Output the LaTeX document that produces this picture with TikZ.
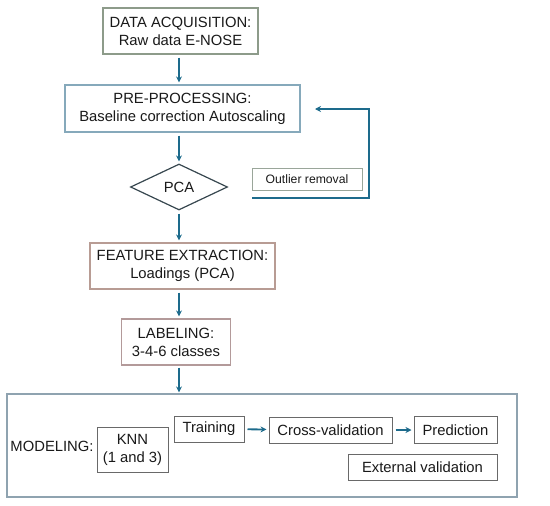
\documentclass[tikz,border=0pt]{standalone}
\usepackage{fontspec}
\setmainfont{Liberation Sans}
\usetikzlibrary{arrows.meta,shapes.geometric}

\definecolor{flowblue}{RGB}{29,107,140}
\definecolor{acqline}{RGB}{141,155,138}
\definecolor{preline}{RGB}{134,169,187}
\definecolor{featline}{RGB}{184,156,148}
\definecolor{labline}{RGB}{179,154,154}
\definecolor{modline}{RGB}{143,163,176}
\definecolor{outline}{RGB}{154,166,154}
\definecolor{stepline}{RGB}{105,105,105}
\definecolor{pcaline}{RGB}{55,71,79}

\begin{document}
\begin{tikzpicture}[
			x=1pt, y=-1pt,
			>={Stealth[length=6pt,width=6pt]},
			every node/.style={font=\fontsize{14.8}{18}\selectfont, text=black!90},
			stage/.style={rectangle, draw, line width=1.2pt, align=center, inner sep=0pt},
			substep/.style={rectangle, draw=stepline, line width=1pt, align=center, inner sep=0pt, minimum height=26pt},
			flow/.style={->, draw=flowblue, line width=1.8pt, shorten >=2pt, shorten <=3pt}
		]
			\useasboundingbox (0,0) rectangle (550,506);

			% main column
			\node[stage, draw=acqline, minimum width=155pt, minimum height=46pt] (acq) at (180.5,31) {DATA ACQUISITION:\\Raw data E-NOSE};
			\node[stage, draw=preline, minimum width=235pt, minimum height=47pt] (pre) at (182.5,108.5) {PRE-PROCESSING:\\Baseline correction Autoscaling};
			\node[diamond, draw=pcaline, line width=1.2pt, inner sep=0pt, minimum width=97pt, minimum height=46pt] (pca) at (179,187) {PCA};
			\node[stage, draw=featline, minimum width=185pt, minimum height=46pt] (feat) at (182.5,266) {FEATURE EXTRACTION:\\Loadings (PCA)};
			\node[stage, draw=labline, minimum width=109pt, minimum height=46pt] (lab) at (176,342) {LABELING:\\3-4-6 classes};

			% outlier loop
			\node[stage, draw=outline, line width=1pt, minimum width=110pt, minimum height=22pt, font=\fontsize{12.2}{14}\selectfont] (outl) at (307,179) {Outlier removal};
			\coordinate (fbs) at (252,198);
			\coordinate (fbc) at (369,198);
			\coordinate (fbe) at (315,109);

			% modeling block
			\node[stage, draw=modline, minimum width=510pt, minimum height=103pt] (model) at (262,445.5) {};
			\node (mtxt) at (52,446) {MODELING:};
			\node[substep, minimum width=71pt, minimum height=45pt] (knn) at (132.5,449.5) {KNN\\(1 and 3)};
			\node[substep, minimum width=70pt] (train) at (209,429) {Training};
			\node[substep, minimum width=123pt] (cv) at (330.5,430) {Cross-validation};
			\node[substep, minimum width=83pt, minimum height=27pt] (pred) at (455.5,430) {Prediction};
			\node[substep, minimum width=149pt] (ext) at (422.5,467) {External validation};

			% column arrows, all on the axis of the diamond
			\draw[flow] (acq.south -| pca) -- (pre.north -| pca);
			\draw[flow] (pre.south -| pca) -- (pca.north);
			\draw[flow] (pca.south) -- (feat.north -| pca);
			\draw[flow] (feat.south -| pca) -- (lab.north -| pca);
			\draw[flow, shorten >=1pt, shorten <=2pt] (lab.south -| pca) -- (model.north -| pca);
			\path[flow]
				(train) edge (cv)
				(cv) edge (pred);
			\draw[->, draw=flowblue, line width=1.8pt] (fbs) -- (fbc) |- (fbe);
		\end{tikzpicture}
\end{document}
